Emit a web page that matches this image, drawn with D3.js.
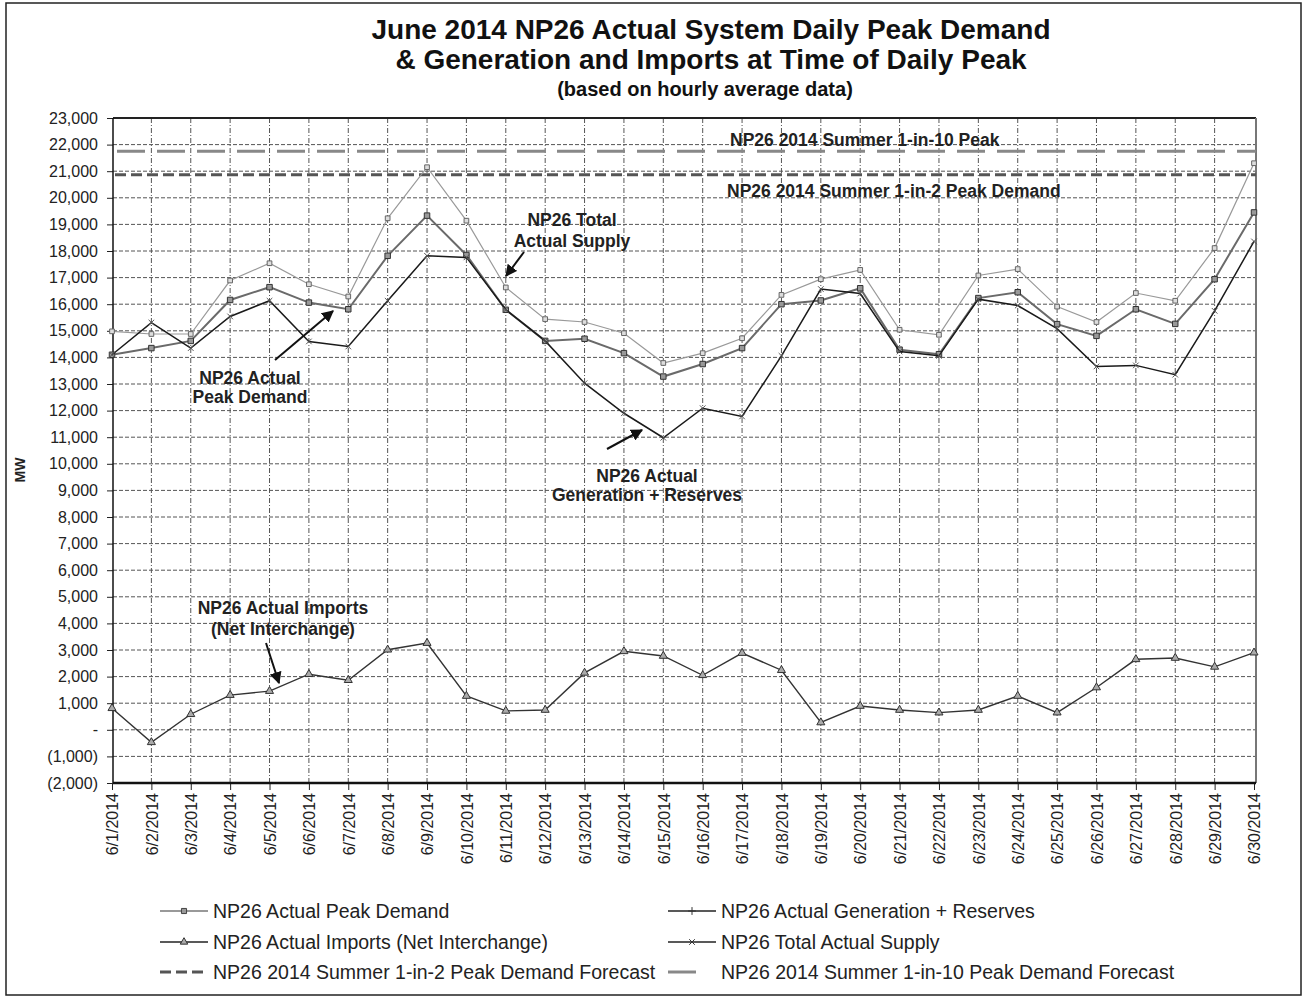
<!DOCTYPE html>
<html><head><meta charset="utf-8">
<script src="https://cdn.jsdelivr.net/npm/d3@7/dist/d3.min.js"></script>
<style>body{margin:0;background:#fff}svg{display:block;font-family:"Liberation Sans",Arial,sans-serif}</style>
</head><body><svg id="c" width="1307" height="999"></svg>
<script>
const dates = ["6/1/2014","6/2/2014","6/3/2014","6/4/2014","6/5/2014","6/6/2014","6/7/2014","6/8/2014","6/9/2014","6/10/2014",
"6/11/2014","6/12/2014","6/13/2014","6/14/2014","6/15/2014","6/16/2014","6/17/2014","6/18/2014","6/19/2014","6/20/2014",
"6/21/2014","6/22/2014","6/23/2014","6/24/2014","6/25/2014","6/26/2014","6/27/2014","6/28/2014","6/29/2014","6/30/2014"];
const peakDemand = [14100,14350,14620,16160,16640,16060,15810,17820,19330,17850,15790,14620,14700,14160,13280,13750,14350,16000,16140,16600,14290,14120,16230,16450,15250,14810,15810,15260,16940,19450];
const generation = [14100,15310,14350,15540,16130,14600,14410,16130,17820,17760,15790,14620,13030,11900,10980,12090,11780,14060,16570,16400,14220,14060,16190,15950,15080,13660,13700,13350,15750,18360];
const imports = [810,-470,585,1305,1455,2090,1865,3010,3260,1270,710,745,2140,2950,2775,2050,2885,2240,275,895,745,645,745,1270,645,1590,2650,2700,2365,2900];
const totalSupply = [14980,14880,14880,16890,17540,16750,16290,19230,21150,19140,16630,15440,15330,14910,13790,14160,14720,16350,16940,17290,15040,14850,17080,17320,15910,15330,16420,16130,18110,21300];
const forecast1in2 = 20870;
const forecast1in10 = 21750;
const yTicks = d3.range(-2000, 23001, 1000);
const titleLines = ["June 2014 NP26 Actual System Daily Peak Demand","& Generation and Imports at Time of Daily Peak","(based on hourly average data)"];
const legendItems = ["NP26 Actual Peak Demand","NP26 Actual Generation + Reserves","NP26 Actual Imports (Net Interchange)","NP26 Total Actual Supply","NP26 2014 Summer 1-in-2 Peak Demand Forecast","NP26 2014 Summer 1-in-10 Peak Demand Forecast"];

const svg = d3.select("#c");
const L=113, R=1256, T=118, B=783;
const x = d3.scalePoint().domain(dates).range([112,1254]);
const y = d3.scaleLinear().domain([-2000,23000]).range([B,T]);
const fmt = v => v===0 ? "-" : (v<0 ? "("+d3.format(",")(-v)+")" : d3.format(",")(v));

svg.append("rect").attr("width",1307).attr("height",999).attr("fill","#fff");
svg.append("rect").attr("x",6).attr("y",3).attr("width",1295).attr("height",992).attr("fill","none").attr("stroke","#222").attr("stroke-width",1.5);

// titles
const tsz=[28,28,20], ty=[39,69,96];
titleLines.forEach((t,i)=>svg.append("text").attr("x",i===2?705:711).attr("y",ty[i]).attr("text-anchor","middle")
  .attr("font-weight","bold").attr("font-size",tsz[i]).attr("fill","#111").text(t));

// gridlines
const g = svg.append("g");
g.selectAll(".hg").data(yTicks.filter(v=>v>-2000&&v<23000)).join("line")
  .attr("x1",L).attr("x2",R).attr("y1",d=>y(d)).attr("y2",d=>y(d))
  .attr("stroke","#555").attr("stroke-width",1).attr("stroke-dasharray","4,2");
g.selectAll(".vg").data(dates.slice(1,-1)).join("line")
  .attr("x1",d=>x(d)).attr("x2",d=>x(d)).attr("y1",T).attr("y2",B)
  .attr("stroke","#555").attr("stroke-width",1).attr("stroke-dasharray","5,2,1,2");

// axes
const ya = d3.axisLeft(y).tickValues(yTicks).tickFormat(fmt).tickSize(6).tickPadding(9);
const yg = svg.append("g").attr("transform",`translate(${L},0)`).call(ya);
yg.select(".domain").remove();
yg.selectAll("text").attr("font-size",16).attr("fill","#222").attr("font-family","Liberation Sans, Arial");
yg.selectAll("line").attr("stroke","#222");
const xa = d3.axisBottom(x).tickSize(7).tickPadding(0);
const xg = svg.append("g").attr("transform",`translate(0,${B})`).call(xa);
xg.select(".domain").remove();
xg.selectAll("line").attr("stroke","#222");
xg.selectAll("text").attr("font-size",16).attr("fill","#222").attr("font-family","Liberation Sans, Arial")
  .attr("text-anchor","end").attr("transform","rotate(-90)").attr("x",-10).attr("y",0).attr("dy","0.36em");

// frame
svg.append("line").attr("x1",L).attr("x2",R).attr("y1",T).attr("y2",T).attr("stroke","#222").attr("stroke-width",2);
svg.append("line").attr("x1",R).attr("x2",R).attr("y1",T).attr("y2",B).attr("stroke","#777").attr("stroke-width",2);
svg.append("line").attr("x1",L).attr("x2",L).attr("y1",T).attr("y2",B).attr("stroke","#111").attr("stroke-width",1.5);
svg.append("line").attr("x1",L).attr("x2",R).attr("y1",B).attr("y2",B).attr("stroke","#111").attr("stroke-width",2.5);

svg.append("text").attr("transform","translate(25,470) rotate(-90)").attr("text-anchor","middle")
  .attr("font-weight","bold").attr("font-size",14).attr("fill","#222").text("MW");

// forecast lines
svg.append("line").attr("x1",L+4).attr("x2",R).attr("y1",y(forecast1in10)).attr("y2",y(forecast1in10))
  .attr("stroke","#888").attr("stroke-width",3).attr("stroke-dasharray","28,12");
svg.append("line").attr("x1",L+2).attr("x2",R).attr("y1",y(forecast1in2)).attr("y2",y(forecast1in2))
  .attr("stroke","#555").attr("stroke-width",3).attr("stroke-dasharray","11,5");

// series
const line = d3.line().x((d,i)=>x(dates[i])).y(d=>y(d));
const series = [
  {data: totalSupply, stroke:"#999", w:1.2, sym:d3.symbolSquare, size:22, fill:"#ddd", ms:"#666"},
  {data: peakDemand, stroke:"#6a6a6a", w:2, sym:d3.symbolSquare, size:30, fill:"#999", ms:"#333"},
  {data: generation, stroke:"#1a1a1a", w:1.5, sym:d3.symbolTimes, size:22, fill:"none", ms:"#555"},
  {data: imports, stroke:"#333", w:1.4, sym:d3.symbolTriangle, size:28, fill:"#aaa", ms:"#333"}
];
series.forEach(s=>{
  svg.append("path").attr("d",line(s.data)).attr("fill","none").attr("stroke",s.stroke).attr("stroke-width",s.w);
  svg.append("g").selectAll("path").data(s.data).join("path")
    .attr("transform",(d,i)=>`translate(${x(dates[i])},${y(d)})`)
    .attr("d",d3.symbol(s.sym,s.size)).attr("fill",s.fill).attr("stroke",s.ms).attr("stroke-width",1);
});

// annotations
const ann = [
  {t:"NP26 2014 Summer 1-in-10 Peak", x:730, y:146, a:"start"},
  {t:"NP26 2014 Summer 1-in-2 Peak Demand", x:727, y:197, a:"start"},
  {t:"NP26 Total", x:572, y:226, a:"middle"},
  {t:"Actual Supply", x:572, y:247, a:"middle"},
  {t:"NP26 Actual", x:250, y:384, a:"middle"},
  {t:"Peak Demand", x:250, y:403, a:"middle"},
  {t:"NP26 Actual", x:647, y:482, a:"middle"},
  {t:"Generation + Reserves", x:647, y:501, a:"middle"},
  {t:"NP26 Actual Imports", x:283, y:614, a:"middle"},
  {t:"(Net Interchange)", x:283, y:635, a:"middle"}
];
ann.forEach(a=>svg.append("text").attr("x",a.x).attr("y",a.y).attr("text-anchor",a.a)
  .attr("font-weight","bold").attr("font-size",17.5).attr("fill","#222").text(a.t));

svg.append("defs").append("marker").attr("id","ah").attr("viewBox","0 0 10 10").attr("refX",9).attr("refY",5)
  .attr("markerWidth",6).attr("markerHeight",6).attr("orient","auto")
  .append("path").attr("d","M0,0 L10,5 L0,10 z").attr("fill","#111");
const arrows = [[524,252,506,276],[275,360,333,311],[607,449,642,430],[266,643,279,683]];
arrows.forEach(a=>svg.append("line").attr("x1",a[0]).attr("y1",a[1]).attr("x2",a[2]).attr("y2",a[3])
  .attr("stroke","#111").attr("stroke-width",2).attr("marker-end","url(#ah)"));

// legend
const lg = svg.append("g");
const pos = [[160,911],[668,911],[160,942],[668,942],[160,972],[668,972]];
const lsty = [
  {stroke:"#999", w:2, sym:d3.symbolSquare, size:26, fill:"#999", ms:"#444"},
  {stroke:"#222", w:1.3, sym:d3.symbolPlus, size:22, fill:"none", ms:"#333"},
  {stroke:"#222", w:1.3, sym:d3.symbolTriangle, size:24, fill:"#aaa", ms:"#333"},
  {stroke:"#222", w:1.3, sym:d3.symbolTimes, size:22, fill:"none", ms:"#333"},
  {stroke:"#555", w:3, dash:"11,5"},
  {stroke:"#888", w:3, dash:"28,12"}
];
legendItems.forEach((t,i)=>{
  const [px,py]=pos[i], s=lsty[i];
  const len = i===5 ? 32 : 48;
  lg.append("line").attr("x1",px).attr("x2",px+len).attr("y1",py).attr("y2",py)
    .attr("stroke",s.stroke).attr("stroke-width",s.w).attr("stroke-dasharray",s.dash||null);
  if(s.sym) lg.append("path").attr("transform",`translate(${px+24},${py})`).attr("d",d3.symbol(s.sym,s.size))
    .attr("fill",s.fill).attr("stroke",s.ms).attr("stroke-width",1);
  lg.append("text").attr("x",px+53).attr("y",py).attr("dy","0.36em").attr("font-size",19.5).attr("fill","#222").text(t);
});
</script></body></html>
